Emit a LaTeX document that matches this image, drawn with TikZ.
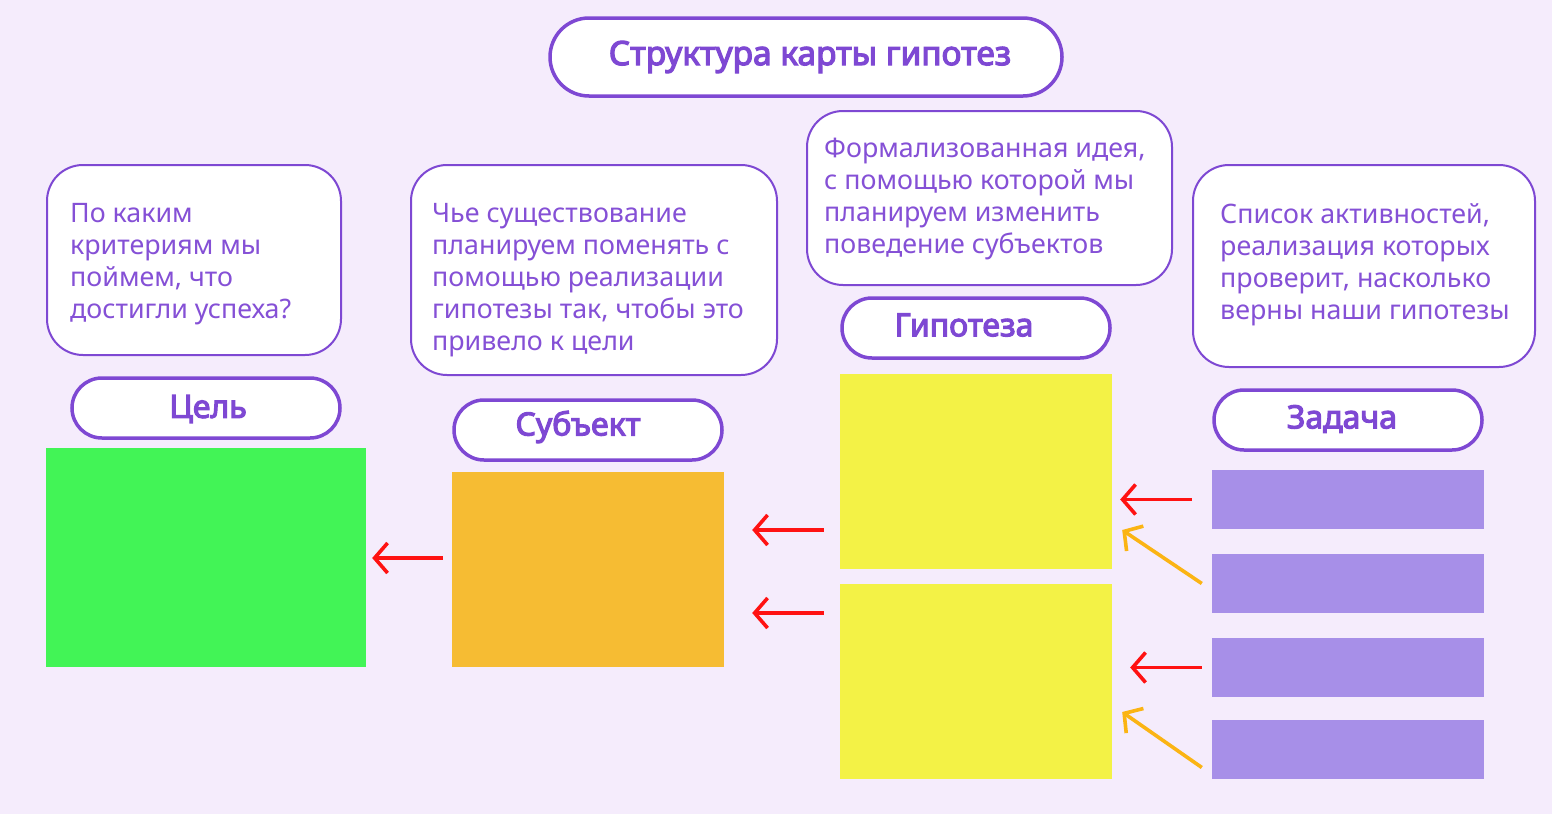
\documentclass[tikz,border=0pt]{standalone}
\usepackage{fontspec}
\setmainfont{Noto Sans}
\newfontfamily\boldf[FakeBold=3.5]{Noto Sans}
\usetikzlibrary{arrows.meta}
\definecolor{bgc}{HTML}{F5ECFC}
\definecolor{pur}{HTML}{7E48D3}
\definecolor{txt}{HTML}{8550D6}
\definecolor{grn}{HTML}{42F456}
\definecolor{org}{HTML}{F6BC33}
\definecolor{yel}{HTML}{F3F246}
\definecolor{lil}{HTML}{A78FE8}
\definecolor{arred}{HTML}{FF1212}
\definecolor{arorg}{HTML}{FBB414}
\tikzset{
  pill/.style={draw=pur, line width=3.5pt, fill=white, rounded corners=30pt, minimum width=268pt, minimum height=60pt, inner sep=0pt},
  pilltext/.style={text=pur, font=\boldf\fontsize{32}{34}\selectfont, inner sep=0pt},
  infobox/.style={draw=pur, line width=2pt, fill=white, rounded corners=36pt, inner sep=0pt},
  infotext/.style={text=txt, font=\fontsize{26.8}{32}\selectfont, align=left, anchor=north west, inner sep=0pt},
  block/.style={inner sep=0pt, draw=none},
  redarr/.style={draw=arred, line width=3.6pt, -{Straight Barb[length=13pt,width=30pt,line width=3.6pt]}},
  orgarr/.style={draw=arorg, line width=3.6pt, -{Straight Barb[length=13pt,width=30pt,line width=3.6pt]}}
}
\begin{document}
\begin{tikzpicture}[x=1pt,y=-1pt]
\fill[bgc] (0,0) rectangle (1552,814);
\useasboundingbox (0,0) rectangle (1552,814);

% title
\node[draw=pur, line width=3.5pt, fill=white, rounded corners=39pt, minimum width=512pt, minimum height=78pt, inner sep=0pt] (title) at (806,57) {};
\node[text=pur, font=\boldf\fontsize{33.5}{36}\selectfont, inner sep=0pt] (titletext) at (810,57) {Структура карты гипотез};

% info boxes
\node[infobox, minimum width=294pt, minimum height=190pt] (box1) at (194,260) {};
\node[infotext] (t1) at (70,203) {По каким\\критериям мы\\поймем, что\\достигли успеха?};

\node[infobox, minimum width=366pt, minimum height=210pt] (box2) at (594,270) {};
\node[infotext] (t2) at (432,203) {Чье существование\\планируем поменять с\\помощью реализации\\гипотезы так, чтобы это\\привело к цели};

\node[infobox, minimum width=365pt, minimum height=174pt] (box3) at (989.5,198) {};
\node[infotext] (t3) at (824,138) {Формализованная идея,\\с помощью которой мы\\планируем изменить\\поведение субъектов};

\node[infobox, minimum width=342pt, minimum height=202pt] (box4) at (1364,266) {};
\node[infotext] (t4) at (1220,203) {Список активностей,\\реализация которых\\проверит, насколько\\верны наши гипотезы};

% pills
\node[pill] (p1) at (206,408) {};
\node[pilltext] (l1) at (208,409) {Цель};
\node[pill] (p2) at (588,430) {};
\node[pilltext] (l2) at (578,427) {Субъект};
\node[pill] (p3) at (976,328) {};
\node[pilltext] (l3) at (964,325) {Гипотеза};
\node[pill] (p4) at (1348,420) {};
\node[pilltext] (l4) at (1342,419) {Задача};

% blocks
\node[block, fill=grn, minimum width=320pt, minimum height=219pt] (green) at (206,557.5) {};
\node[block, fill=org, minimum width=272pt, minimum height=195pt] (orange) at (588,569.5) {};
\node[block, fill=yel, minimum width=272pt, minimum height=195pt] (yel1) at (976,471.5) {};
\node[block, fill=yel, minimum width=272pt, minimum height=195pt] (yel2) at (976,681.5) {};
\node[block, fill=lil, minimum width=272pt, minimum height=59pt] (task1) at (1348,499.5) {};
\node[block, fill=lil, minimum width=272pt, minimum height=59pt] (task2) at (1348,583.5) {};
\node[block, fill=lil, minimum width=272pt, minimum height=59pt] (task3) at (1348,667.5) {};
\node[block, fill=lil, minimum width=272pt, minimum height=59pt] (task4) at (1348,749.5) {};

% arrows
\draw[redarr] ([xshift=-9pt]orange.west |- 0,558) -- ([xshift=6pt]green.east |- 0,558);
\draw[redarr] ([xshift=-16pt]yel1.west |- 0,530) -- ([xshift=28pt]orange.east |- 0,530);
\draw[redarr] ([xshift=-16pt]yel2.west |- 0,613) -- ([xshift=28pt]orange.east |- 0,613);
\draw[redarr] ([xshift=-20pt]task1.west) -- ([xshift=8pt]yel1.east |- task1.west);
\draw[redarr] ([xshift=-10pt]task3.west) -- ([xshift=18pt]yel2.east |- task3.west);
\draw[orgarr] ([xshift=-10pt]task2.west) -- ([xshift=10pt]yel1.east |- 0,530);
\draw[orgarr] ([xshift=-10pt,yshift=-18pt]task4.west) -- ([xshift=10pt]yel2.east |- 0,712);
\end{tikzpicture}
\end{document}
